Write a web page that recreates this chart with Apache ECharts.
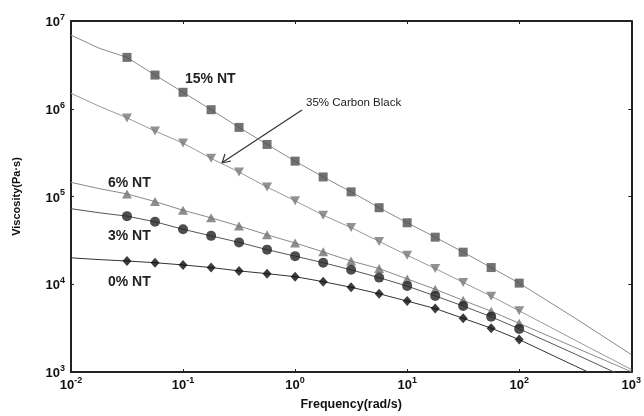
<!DOCTYPE html>
<html>
<head>
<meta charset="utf-8">
<script src="https://cdn.jsdelivr.net/npm/echarts@6/dist/echarts.min.js"></script>
<style>
  html, body { margin: 0; padding: 0; background: #fff; }
  #chart { width: 644px; height: 416px; }
</style>
</head>
<body>
<div id="chart"></div>
<script>
// Measured frequencies (rad/s)
const freq = [0.0316, 0.0562, 0.1, 0.178, 0.316, 0.562, 1, 1.78, 3.16, 5.62, 10, 17.8, 31.6, 56.2, 100];

// Complex viscosity (Pa·s) for each compound
const nt15 = [3.85e6, 2.42e6, 1.54e6, 9.75e5, 6.13e5, 3.92e5, 2.53e5, 1.67e5, 1.13e5, 7.45e4, 5.02e4, 3.44e4, 2.32e4, 1.55e4, 1.03e4];
const cb35 = [7.87e5, 5.57e5, 4.06e5, 2.72e5, 1.90e5, 1.28e5, 8.93e4, 6.12e4, 4.42e4, 3.08e4, 2.14e4, 1.51e4, 1.05e4, 7.32e3, 4.98e3];
const nt6  = [1.07e5, 8.75e4, 6.97e4, 5.71e4, 4.61e4, 3.66e4, 2.95e4, 2.34e4, 1.84e4, 1.51e4, 1.15e4, 8.77e3, 6.55e3, 4.93e3, 3.59e3];
const nt3  = [5.97e4, 5.15e4, 4.23e4, 3.56e4, 3.00e4, 2.48e4, 2.09e4, 1.76e4, 1.46e4, 1.19e4, 9.53e3, 7.36e3, 5.65e3, 4.26e3, 3.10e3];
const nt0  = [1.84e4, 1.76e4, 1.66e4, 1.55e4, 1.42e4, 1.32e4, 1.22e4, 1.07e4, 9.23e3, 7.79e3, 6.43e3, 5.29e3, 4.09e3, 3.16e3, 2.34e3];

// Model fit curves run through the data and are extended on both ends
const fitLowFreq  = [0.01, 0.0178];
const fitHighFreq = [316, 1000];
const fit15Low = [6.9e6, 4.9e6],  fit15High = [4.1e3, 1.58e3];
const fit35Low = [1.5e6, 1.07e6], fit35High = [2.3e3, 1.07e3];
const fit6Low  = [1.45e5, 1.23e5], fit6High = [1.9e3, 1.01e3];
const fit3Low  = [7.26e4, 6.53e4], fit3High = [1.6e3, 8.1e2];
const fit0Low  = [2.0e4, 1.91e4],  fit0High = [1.17e3, 5.9e2];

// Decade tick labels (exponents of ten)
const xTickExp = ['-2', '-1', '0', '1', '2', '3'];
const yTickExp = ['3', '4', '5', '6', '7'];

const FONT = 'Liberation Sans, Arial, sans-serif';

function pairs(xs, ys) { return xs.map((x, i) => [x, ys[i]]); }
function fitCurve(low, data, high) {
  return pairs(fitLowFreq, low).concat(pairs(freq, data), pairs(fitHighFreq, high));
}

function expLabel(list, minExp) {
  return function (v) {
    const k = Math.round(Math.log10(v)) - minExp;
    const e = list[k];
    if (e === undefined) return '';
    return '{b|10}{s|' + e + '}';
  };
}

const richTick = {
  b: { fontFamily: FONT, fontWeight: 'bold', fontSize: 13, color: '#111', lineHeight: 16, verticalAlign: 'bottom' },
  s: { fontFamily: FONT, fontWeight: 'bold', fontSize: 9, color: '#111', lineHeight: 16, verticalAlign: 'top', padding: [0, 0, 6, 0] }
};

const axisLine = { show: true, lineStyle: { color: '#222', width: 2 } };
const tickIn = { show: true, inside: true, length: 3, lineStyle: { color: '#222', width: 1 } };

const fitSeries = [
  { data: fitCurve(fit15Low, nt15, fit15High), color: '#8a8a8a' },
  { data: fitCurve(fit35Low, cb35, fit35High), color: '#9a9a9a' },
  { data: fitCurve(fit6Low, nt6, fit6High), color: '#8a8a8a' },
  { data: fitCurve(fit3Low, nt3, fit3High), color: '#555' },
  { data: fitCurve(fit0Low, nt0, fit0High), color: '#333' }
].map(f => ({
  type: 'line', data: f.data, showSymbol: false, symbol: 'none', clip: true,
  lineStyle: { color: f.color, width: 1 }, silent: true, z: 2
}));

const markerSeries = [
  { name: '15% NT', data: nt15, symbol: 'rect', size: 9, rotate: 0, color: '#4d4d4d' },
  { name: '35% Carbon Black', data: cb35, symbol: 'triangle', size: [10, 9], rotate: 180, color: '#777' },
  { name: '6% NT', data: nt6, symbol: 'triangle', size: [10, 9], rotate: 0, color: '#707070' },
  { name: '3% NT', data: nt3, symbol: 'circle', size: 10, rotate: 0, color: '#222' },
  { name: '0% NT', data: nt0, symbol: 'diamond', size: [9, 10], rotate: 0, color: '#0d0d0d' }
].map(m => ({
  type: 'scatter', name: m.name, data: pairs(freq, m.data),
  symbol: m.symbol, symbolSize: m.size, symbolRotate: m.rotate,
  itemStyle: { color: m.color }, z: 3
}));

const chart = echarts.init(document.getElementById('chart'), null, { renderer: 'canvas' });

const labelStyle = { fontFamily: FONT, fontWeight: 'bold', fontSize: 14, fill: '#222' };

chart.setOption({
  animation: false,
  backgroundColor: '#fff',
  grid: { left: 71, right: 10, top: 21, bottom: 38, containLabel: false },
  xAxis: [
    {
      type: 'log', logBase: 10, min: 0.01, max: 1000, position: 'bottom',
      name: 'Frequency(rad/s)', nameLocation: 'middle', nameGap: 26,
      nameTextStyle: { fontFamily: FONT, fontWeight: 'bold', fontSize: 12.5, color: '#111' },
      axisLine: axisLine, axisTick: tickIn, splitLine: { show: false }, minorTick: { show: false },
      axisLabel: { formatter: expLabel(xTickExp, -2), rich: richTick, margin: 4 }
    },
    {
      type: 'log', logBase: 10, min: 0.01, max: 1000, position: 'top',
      axisLine: axisLine, axisTick: tickIn, splitLine: { show: false },
      axisLabel: { show: false }
    }
  ],
  yAxis: [
    {
      type: 'log', logBase: 10, min: 1000, max: 1e7, position: 'left',
      name: 'Viscosity(Pa·s)', nameLocation: 'middle', nameGap: 49, nameRotate: 90,
      nameTextStyle: { fontFamily: FONT, fontWeight: 'bold', fontSize: 11, color: '#111' },
      axisLine: axisLine, axisTick: tickIn, splitLine: { show: false },
      axisLabel: { formatter: expLabel(yTickExp, 3), rich: richTick, margin: 6 }
    },
    {
      type: 'log', logBase: 10, min: 1000, max: 1e7, position: 'right',
      axisLine: axisLine, axisTick: tickIn, splitLine: { show: false },
      axisLabel: { show: false }
    }
  ],
  series: fitSeries.concat(markerSeries),
  graphic: [
    { type: 'text', left: 185, top: 72, style: Object.assign({ text: '15% NT' }, labelStyle) },
    { type: 'text', left: 108, top: 176, style: Object.assign({ text: '6% NT' }, labelStyle) },
    { type: 'text', left: 108, top: 229, style: Object.assign({ text: '3% NT' }, labelStyle) },
    { type: 'text', left: 108, top: 275, style: Object.assign({ text: '0% NT' }, labelStyle) },
    { type: 'text', left: 306, top: 97, style: { text: '35% Carbon Black', fontFamily: FONT, fontSize: 11.5, fill: '#222' } },
    { type: 'line', shape: { x1: 302, y1: 110, x2: 223, y2: 162 }, style: { stroke: '#333', lineWidth: 1.2 } },
    { type: 'polyline', shape: { points: [[225, 154], [222, 163], [231, 161]] }, style: { stroke: '#333', lineWidth: 1.2, fill: null } }
  ]
});
</script>
</body>
</html>
